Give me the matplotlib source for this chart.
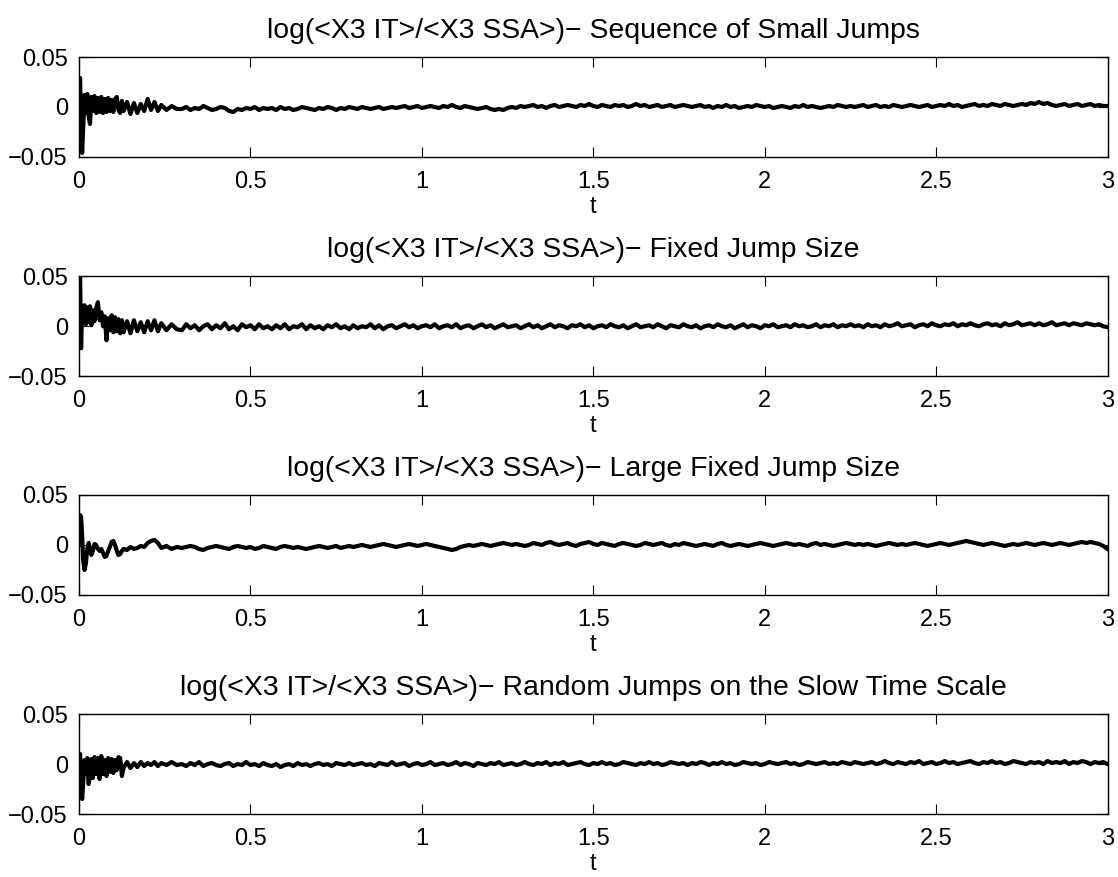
import numpy as np
import matplotlib
matplotlib.use("Agg")
import matplotlib.pyplot as plt

plt.rcParams['font.family'] = ['Liberation Sans', 'DejaVu Sans']
plt.rcParams['font.size'] = 17

titles = [
    "log(<X3 IT>/<X3 SSA>)\u2212 Sequence of Small Jumps",
    "log(<X3 IT>/<X3 SSA>)\u2212 Fixed Jump Size",
    "log(<X3 IT>/<X3 SSA>)\u2212 Large Fixed Jump Size",
    "log(<X3 IT>/<X3 SSA>)\u2212 Random Jumps on the Slow Time Scale",
]

# sample times of the start-up transient (t < 0.3)
t_early = [0.000, 0.003, 0.006, 0.009, 0.012, 0.016, 0.020, 0.024, 0.028, 0.032,
           0.036, 0.040, 0.045, 0.050, 0.055, 0.060, 0.065, 0.070, 0.075, 0.080,
           0.085, 0.090, 0.095, 0.100, 0.105, 0.110, 0.115, 0.120, 0.125, 0.130,
           0.140, 0.150, 0.160, 0.170, 0.180, 0.190, 0.200, 0.210, 0.220, 0.230,
           0.240, 0.255, 0.270, 0.285]

# panel 1 - sequence of small jumps
y1_early = [0.000, 0.029, -0.015, -0.046, -0.020, 0.012, -0.006, 0.013, -0.009, -0.017,
            0.010, -0.004, 0.011, -0.006, 0.009, -0.005, 0.010, -0.006, 0.008, -0.005,
            0.009, -0.004, 0.007, -0.005, 0.008, 0.010, -0.003, -0.006, 0.006, -0.004,
            0.005, -0.007, 0.004, -0.006, 0.003, -0.004, 0.008, -0.003, 0.005, -0.004,
            0.002, -0.003, 0.001, -0.002]
# t = 0.3 .. 3.0, values in units of 1e-3
y1_late = [-2, 0, -3, -1, -2, 1, -1, -3, -2, 0, -1, -4, -5, -2, -3, -1, -2, 0, -3, -1,
           -2, -1, -3, 0, -2, -1, -3, -2, 0, -1, -2, -3, -1, -2, 0, -1, -3, -1, -2, 0,
           -1, -2, 0, -1, -2, -1, 0, -2, -1, 0, -1, 0, 1, -1, 0, 1, -1, 0, 1, 0,
           -1, 1, 0, 2, 0, -1, 1, 0, -1, -2, -1, 0, -2, -3, -2, -3, -1, 0, -1, 1,
           0, 1, 2, 0, 1, -1, 1, 2, 0, 1, 2, 1, 0, 2, 1, 3, 1, 0, 2, 1,
           0, 2, 1, 2, 0, 1, 3, 1, 2, 0, 1, 2, 0, 1, 2, 0, 1, 2, 1, 0,
           1, 2, 0, 1, -1, 1, 0, 2, 0, 1, -1, 0, 1, 0, 2, 1, 0, 1, -1, 0,
           1, 0, -1, 1, 0, 2, 0, 1, 0, -1, 0, 1, 0, 2, 1, 0, 1, 0, 1, 2,
           0, 1, 2, 0, 1, 0, 2, 1, 0, 1, 2, 1, 0, 1, 2, 0, 1, 2, 1, 3,
           1, 2, 0, 1, 2, 3, 1, 2, 1, 3, 2, 1, 3, 2, 1, 2, 3, 2, 4, 3,
           5, 3, 4, 2, 1, 2, 3, 1, 2, 3, 1, 2, 3, 1, 2, 1, 1]

# panel 2 - fixed jump size
y2_early = [0.000, 0.052, -0.022, 0.020, 0.006, 0.021, 0.002, 0.019, 0.004, 0.020,
            0.001, 0.016, 0.005, 0.018, 0.024, 0.006, 0.014, 0.000, 0.010, -0.014,
            0.008, -0.004, 0.011, -0.006, 0.009, -0.005, 0.007, -0.007, 0.006, -0.006,
            0.005, -0.007, 0.006, -0.005, 0.004, -0.006, 0.005, -0.004, 0.006, -0.005,
            0.003, -0.004, 0.002, -0.003]
y2_late = [-4, 2, -2, 1, -4, 0, 2, -3, 1, -2, 3, -3, 0, -4, 2, -1, 1, -3, 2, -2,
           0, -3, 1, -2, 2, -3, 0, -1, 2, -3, 1, -2, 0, -3, 1, -1, 2, -2, 0, -3,
           1, -2, 0, -1, 2, -2, 1, -3, 0, 1, -2, 0, 2, -1, 1, -2, 0, 1, -1, 2,
           -2, 0, 1, -1, 2, -2, 0, 1, -2, 0, 2, -1, 1, -2, 0, 2, -1, 0, 1, -2,
           0, 2, -1, 1, -2, 0, 2, -1, 1, 0, -2, 1, 0, 2, -1, 1, -2, 0, 1, -1,
           2, 0, -1, 1, -2, 0, 2, -1, 0, 1, -1, 2, 0, -2, 1, 0, -1, 2, 0, -1,
           1, -2, 0, 1, -1, 2, 0, -1, 1, -2, 0, 2, -1, 1, 0, -2, 1, 0, 2, -1,
           0, 1, -1, 2, 0, 1, -1, 0, 2, -1, 1, 0, 2, -1, 1, 0, 2, 0, 1, -1,
           2, 0, 1, -1, 2, 0, 1, 3, 0, 1, 2, -1, 1, 2, 0, 3, 1, 0, 2, 1,
           3, 0, 2, 1, 3, 1, 0, 2, 3, 1, 2, 0, 3, 1, 2, 4, 1, 2, 3, 1,
           3, 1, 2, 4, 1, 2, 3, 1, 3, 2, 1, 3, 2, 1, 2, 0, -1]

# panel 3 - large fixed jump size
y3_early = [0.000, 0.030, 0.028, 0.010, -0.015, -0.025, -0.018, -0.004, 0.002, -0.004,
            -0.010, -0.006, 0.001, 0.000, -0.004, -0.006, -0.004, -0.008, -0.012, -0.011,
            -0.006, -0.002, 0.003, 0.004, 0.000, -0.006, -0.010, -0.009, -0.006, -0.004,
            -0.005, -0.002, -0.004, -0.003, -0.001, -0.002, 0.002, 0.004, 0.005, 0.002,
            -0.003, -0.001, -0.004, -0.002]
y3_late = [-3, -2, -1, -2, -4, -5, -3, -2, -1, -2, -3, -4, -2, -1, -2, -3, -2, -4, -3, -1,
           -2, -3, -4, -2, -1, -2, -3, -2, -3, -4, -3, -2, -1, -2, -3, -2, -1, -3, -2, -1,
           -2, -1, 0, -1, -2, -1, 0, 1, 0, -1, -2, -1, 0, 1, 0, -1, 0, 1, 0, -1,
           -2, -3, -4, -5, -4, -2, -1, 0, -1, 0, 1, 0, -1, 0, 1, 2, 1, 0, 1, 0,
           -1, 0, 2, 1, 0, 2, 3, 1, 0, 1, 2, 0, -1, 1, 2, 3, 1, 0, 2, 1,
           0, -1, 1, 2, 1, 0, -1, 0, 2, 1, 0, 1, 2, 0, -1, 1, 0, 2, 1, 0,
           -1, 0, 1, 0, -1, 1, 2, 0, -1, 0, 1, 0, -1, 0, 1, 2, 1, 0, -1, 0,
           1, 2, 1, 0, 1, 0, -1, 1, 2, 0, 1, 0, -1, 0, 1, 2, 1, 0, 1, 0,
           1, 0, -1, 0, 1, 2, 1, 0, 1, 0, 1, 2, 1, 0, -1, 0, 1, 2, 1, 0,
           1, 2, 3, 4, 3, 2, 1, 0, 1, 2, 1, 0, -1, 0, 1, 0, 1, 2, 1, 0,
           1, 2, 1, 0, 1, 2, 1, 0, 1, 2, 3, 2, 3, 2, 1, -1, -4]

# panel 4 - random jumps on the slow time scale
y4_early = [0.000, 0.010, -0.010, -0.035, -0.020, 0.004, -0.010, 0.006, -0.020, -0.012,
            0.005, -0.014, 0.007, -0.010, 0.006, -0.015, 0.008, -0.010, 0.004, -0.012,
            0.006, -0.008, 0.005, -0.009, 0.004, -0.006, 0.007, 0.006, -0.012, -0.004,
            0.002, -0.004, 0.001, -0.003, 0.002, -0.002, 0.001, -0.001, 0.002, -0.002,
            0.001, -0.001, 0.002, -0.001]
y4_late = [0, -2, 1, -1, 2, -2, 0, 1, -1, -2, 0, 1, -2, 0, -1, 2, -1, 0, -2, 1,
           -1, -2, 0, -3, -1, 0, -2, 1, -1, 0, -2, 0, 1, -1, 0, -2, 1, 0, -1, 1,
           -1, 0, 1, -1, 0, -2, 1, 0, -1, 2, -1, 0, 1, -2, 0, 1, -1, 0, 2, -1,
           0, 1, -1, 0, 2, -1, 1, 0, -2, 1, 0, -1, 1, 0, 2, -1, 0, 1, -1, 0,
           2, 0, -1, 1, 0, 2, -1, 1, 0, 2, -1, 0, 1, 2, 0, -1, 1, 0, 2, 0,
           1, -1, 0, 2, 1, 0, -1, 1, 0, 2, 0, 1, -1, 0, 2, 1, 0, 1, -1, 1,
           0, 2, 1, -1, 1, 0, 2, 0, 1, -1, 0, 2, 1, 0, 1, -1, 0, 2, 1, 0,
           1, 2, 0, 1, -1, 0, 2, 1, 0, 1, 2, 0, 1, 0, 2, 1, 0, 2, 1, 0,
           1, 2, 0, 1, 3, 1, 0, 2, 1, 0, 2, 1, 3, 0, 1, 2, 0, 1, 3, 1,
           2, 0, 1, 2, 3, 1, 0, 2, 1, 3, 1, 2, 0, 1, 3, 2, 1, 0, 2, 1,
           2, 0, 3, 1, 2, 1, 3, 0, 2, 1, 3, 2, 0, 2, 1, 2, 0]

series = [(y1_early, y1_late), (y2_early, y2_late), (y3_early, y3_late), (y4_early, y4_late)]

fig = plt.figure(figsize=(11.18, 8.77), dpi=100)
bottoms = [0.821, 0.571, 0.3216, 0.0718]

for k in range(4):
    ax = fig.add_axes([0.0707, bottoms[k], 0.920, 0.114])
    early, late = series[k]
    t_late = np.linspace(0.3, 3.0, len(late))
    t = np.concatenate([t_early, t_late])
    y = np.concatenate([early, np.array(late) * 1e-3])
    ax.plot(t, y, color='black', lw=3.0)
    ax.set_xlim(0, 3)
    ax.set_ylim(-0.05, 0.05)
    ax.set_xticks([0, 0.5, 1, 1.5, 2, 2.5, 3])
    ax.set_xticklabels(['0', '0.5', '1', '1.5', '2', '2.5', '3'])
    ax.set_yticks([-0.05, 0, 0.05])
    ax.set_yticklabels(['\u22120.05', '0', '0.05'])
    ax.tick_params(direction='in', top=True, right=True, length=7, width=0.8)
    ax.tick_params(axis='x', pad=10)
    ax.tick_params(axis='y', pad=8)
    for s in ax.spines.values():
        s.set_linewidth(1.0)
    ax.set_xlabel('t', labelpad=2)
    ax.set_title(titles[k], pad=14)

fig.savefig('out.png', dpi=100)
